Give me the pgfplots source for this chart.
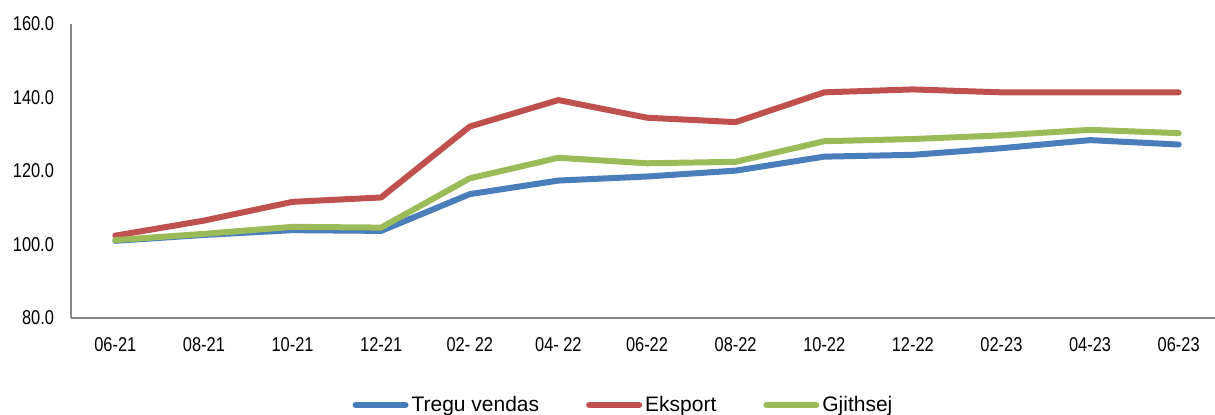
\documentclass[border=0pt]{standalone}
\usepackage{fontspec}
\setmainfont{Liberation Sans}
\newfontfamily\tickfont{Liberation Sans}[FakeStretch=0.82]
\usepackage{pgfplots}
\pgfplotsset{compat=1.18}
\definecolor{cblue}{HTML}{4A7EBB}
\definecolor{cred}{HTML}{C0504D}
\definecolor{cgreen}{HTML}{9BBB59}
\definecolor{caxis}{HTML}{868686}
\begin{document}
\begin{tikzpicture}
\useasboundingbox (-35.5pt,-48.5pt) rectangle (572pt,159pt);
\begin{axis}[
  at={(0,0)}, anchor=south west,
  scale only axis, width=576pt, height=147pt,
  xmin=-0.5, xmax=12.5, ymin=80, ymax=160,
  axis x line=bottom, axis y line=left,
  axis line style={caxis, line width=0.8pt, -},
  xtick={0,...,12},
  xticklabels={06-21,08-21,10-21,12-21,02- 22,04- 22,06-22,08-22,10-22,12-22,02-23,04-23,06-23},
  ytick={80,100,120,140,160},
  major tick length=0pt,
  tick label style={font=\tickfont\fontsize{10}{12}\selectfont, black},
  yticklabel style={xshift=-5pt},
  xticklabel style={yshift=-6pt},
  /pgf/number format/assume math mode=true,
  yticklabel={\pgfmathprintnumber[fixed,fixed zerofill,precision=1]{\tick}},
  legend style={draw=none, at={(0.48,-0.296)}, anchor=center,
    legend columns=-1, font=\fontsize{10.5}{12}\selectfont,
    /tikz/every even column/.append style={column sep=22pt},
    inner sep=0pt, nodes={inner sep=1.5pt}},
  legend image code/.code={\draw[#1] (1.5pt,0pt) -- (26.5pt,0pt);},
  every axis plot/.append style={line width=3pt, line join=round, line cap=round, mark=none},
]
\addplot[cblue] coordinates {(0,101.0) (1,102.6) (2,103.9) (3,103.7) (4,113.7) (5,117.4) (6,118.5) (7,120.1) (8,123.9) (9,124.4) (10,126.2) (11,128.4) (12,127.2)};
\addlegendentry{Tregu vendas}
\addplot[cred] coordinates {(0,102.4) (1,106.5) (2,111.6) (3,112.8) (4,132.1) (5,139.3) (6,134.5) (7,133.3) (8,141.4) (9,142.2) (10,141.4) (11,141.4) (12,141.4)};
\addlegendentry{Eksport}
\addplot[cgreen] coordinates {(0,101.2) (1,102.9) (2,104.8) (3,104.6) (4,118.0) (5,123.6) (6,122.1) (7,122.5) (8,128.1) (9,128.7) (10,129.7) (11,131.2) (12,130.3)};
\addlegendentry{Gjithsej}
\end{axis}
\end{tikzpicture}
\end{document}
